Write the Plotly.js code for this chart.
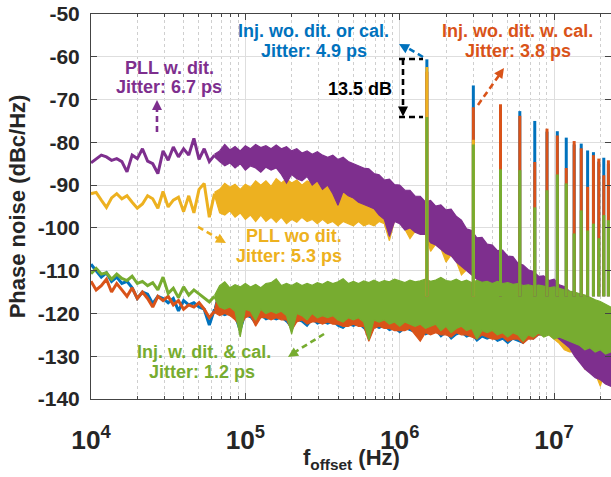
<!DOCTYPE html>
<html><head><meta charset="utf-8">
<script src="https://cdn.plot.ly/plotly-3.0.1.min.js"></script>
<style>html,body{margin:0;padding:0;background:#fff}#chart{width:611px;height:477px}</style>
</head><body><div id="chart"></div>
<script>
// frequency grid (Hz), 30 points per decade
const freqHz = [
1e4,1.08e4,1.166e4,1.259e4,1.359e4,1.468e4,1.585e4,1.711e4,1.848e4,1.995e4,2.154e4,2.326e4,2.512e4,2.712e4,2.929e4,3.162e4,3.415e4,3.687e4,3.981e4,4.299e4,4.642e4,5.012e4,5.412e4,5.843e4,6.31e4,6.813e4,7.356e4,7.943e4,8.577e4,9.261e4,
1e5,1.08e5,1.166e5,1.259e5,1.359e5,1.468e5,1.585e5,1.711e5,1.848e5,1.995e5,2.154e5,2.326e5,2.512e5,2.712e5,2.929e5,3.162e5,3.415e5,3.687e5,3.981e5,4.299e5,4.642e5,5.012e5,5.412e5,5.843e5,6.31e5,6.813e5,7.356e5,7.943e5,8.577e5,9.261e5,
1e6,1.08e6,1.166e6,1.259e6,1.359e6,1.468e6,1.585e6,1.711e6,1.848e6,1.995e6,2.154e6,2.326e6,2.512e6,2.712e6,2.929e6,3.162e6,3.415e6,3.687e6,3.981e6,4.299e6,4.642e6,5.012e6,5.412e6,5.843e6,6.31e6,6.813e6,7.356e6,7.943e6,8.577e6,9.261e6,
1e7,1.08e7,1.166e7,1.259e7,1.359e7,1.468e7,1.585e7,1.711e7,1.848e7,1.995e7,2.154e7,2.326e7];

// low-offset part (single wiggly line), dBc/Hz
const purpleLine = [-84.8,-83.8,-83.0,-83.4,-84.2,-83.8,-84.5,-86.9,-83.0,-83.8,-81.5,-84.4,-85.0,-87.3,-82.0,-84.2,-81.1,-83.4,-81.5,-83.0,-79.1,-84.0,-81.5,-84.5,-83.0];
const yellowLine = [-92.0,-91.7,-93.5,-95.2,-93.0,-92.0,-93.2,-92.5,-94.0,-95.4,-94.4,-92.5,-93.2,-95.4,-91.5,-95.1,-93.5,-92.8,-96.2,-92.5,-96.5,-91.0,-89.6,-97.5,-92.0];
const greenLine = [-110.7,-109.5,-110.8,-110.5,-112.0,-110.8,-111.8,-112.3,-111.3,-113.0,-112.5,-113.5,-112.8,-114.5,-111.5,-115.3,-114.1,-116.3,-113.8,-115.7,-114.5,-115.5,-116.3,-117.3,-116.0];
const blueLine = [-108.5,-110,-111.5,-110.5,-112.5,-111.5,-113,-112.5,-114,-116.5,-115,-115.5,-117.7,-116,-116.5,-117.5,-116.5,-119.4,-117,-118,-117.5,-118.5,-119,-122.7,-119];
const orangeLine = [-112.5,-114.5,-113.5,-112,-115,-113,-114.5,-116,-114,-116.5,-115,-116.5,-118.5,-116,-117,-116,-118,-117,-119,-118,-118.5,-117.5,-119,-121,-119.5];

// dense part: upper / lower envelope of the noise
const purpleHi = [-82.8,-82,-80.5,-81.8,-81,-82,-80.8,-81.5,-80.5,-81.2,
-80.8,-81.5,-80.6,-81.5,-81,-82,-81.5,-82.5,-82,-82.8,
-82.2,-83,-83.5,-83,-84,-83.5,-84.5,-85,-85.5,-86,
-86.2,-87.3,-87.6,-88.8,-88.6,-89.9,-90,-91.2,-91.2,-92.6,
-92.6,-93.9,-93.6,-94.9,-94.6,-95.8,-95.6,-97.3,-98.2,-100.2,
-100.6,-102.3,-102.2,-103.8,-104,-105.3,-105.2,-106.6,-106.7,-108.3,
-108.7,-109.8,-110.2,-111.3,-111.2,-112.3,-112,-113.3,-113.7,-114.8,
-115.5,-116.5,-117.5,-118.5,-119.5,-120.5,-121.5,-122.5];
const purpleLo = [-83.4,-84.5,-85.5,-84.8,-86,-85,-86.5,-85.5,-86,-87,
-85.8,-86.5,-86,-87.5,-89.5,-87.5,-88.5,-89,-88,-90,
-89,-91,-90,-92,-94.7,-91.5,-92.5,-93,-94,-94.5,
-95,-95.5,-97,-98,-102,-98.5,-99,-100.5,-100,-101,
-101.5,-101.5,-103.5,-104,-105,-106,-106.5,-108,-109,-110,
-111,-112,-113,-114,-114.5,-115,-116,-116.5,-117,-117.5,
-119,-120,-121,-122,-123,-124,-125,-126,-127,-128,
-130,-131.5,-133,-134,-135,-135.5,-136.5,-137];
const yellowHi = [-91.7,-91,-89.6,-90.5,-89.8,-91,-89.8,-90.5,-89,-90,
-89,-90.3,-88.5,-89.5,-88.5,-89.5,-88.8,-90,-89,-89.5,
-89,-90,-89.5,-90,-90.5,-90,-90.5,-90.5,-91,-91,
-90.5,-89.5,-89.3,-89.5,-90,-90.5,-91,-91.5,-92,-93,
-93.5,-94,-94.5,-95,-95.5,-96,-96.5,-97.5,-99,-100.3,
-101.5,-102.5,-103,-104,-104.8,-105.5,-106,-106.8,-107.5,-108.5,
-109.5,-110,-111,-111.5,-112,-112.5,-113,-113.5,-114.5,-115,
-116,-117,-118,-119,-120,-121,-122,-123];
const yellowLo = [-92.4,-96.5,-97,-96,-97.5,-96.5,-98,-97,-98.5,-97,
-98.5,-97.5,-98.7,-97.5,-99,-98,-98.7,-97.5,-98.5,-98,
-99,-98,-99,-98.5,-99.5,-98.5,-99,-99.5,-98.5,-99.5,
-99,-99.5,-98.5,-99,-103,-98.3,-98.8,-100.3,-102.5,-100.8,
-101.3,-101.3,-105.5,-103.8,-104.8,-108,-106.3,-107.8,-111,-109.8,
-110.8,-112,-113,-114,-115.5,-116,-117,-117.5,-118,-118.5,
-120,-121,-121.5,-123,-124,-125,-126,-127,-128.5,-129,
-129,-131,-133,-132,-134,-137,-133,-136];
const greenHi = [-115.8,-113.5,-112.6,-114,-113.3,-113.8,-113,-113.8,-113.2,-114,
-113,-112.8,-111.9,-113.5,-113,-113.5,-112.8,-113.5,-113,-113.4,
-112.8,-113.2,-112.5,-113,-112.6,-111.9,-113,-112.5,-113,-112.4,
-112.8,-112.2,-112.8,-112.3,-112.6,-112,-112.4,-112.8,-112.2,-112.6,
-112.4,-112,-112.5,-112.2,-111.6,-112.3,-112.5,-112,-112.6,-112.2,
-112.8,-112.3,-112.7,-112.5,-113,-112.5,-113,-112.8,-113.2,-113,
-113.5,-113.3,-113.6,-113.4,-113.6,-114,-113.8,-114.2,-114.5,-114.8,
-115,-115.4,-115.7,-116.2,-116.8,-117.2,-117.8,-118.5];
const greenLo = [-116.4,-118.5,-119,-118.5,-119.5,-125.5,-119,-119.5,-121.6,-119,
-120,-119.5,-120,-119.5,-120.5,-124.8,-120,-120.5,-121.5,-120,
-121,-120.5,-121,-120.5,-121.5,-122,-121,-121.5,-121,-122,
-126.2,-121.5,-122,-121.5,-122.5,-122,-123,-122,-122.5,-123,
-122.5,-123.5,-123,-122.5,-124,-123,-124.5,-123.5,-123,-124,
-123.5,-126,-124,-124.5,-124,-125,-124.5,-125.5,-124.5,-125,
-126.5,-125,-125.5,-124.5,-125.5,-125,-126,-125.5,-126,-126.5,
-127,-127.5,-128.5,-128,-129,-128.5,-129.5,-129];
const blueHi = [-118.7,-114,-113.2,-114.5,-113.5,-114.3,-113.5,-114.3,-113.6,-114.5,
-113.4,-113.3,-112.4,-114,-113.5,-114,-113.3,-114,-113.5,-113.9,
-113.3,-113.7,-113,-113.5,-113.1,-112.4,-113.5,-113,-113.5,-112.9,
-113.3,-112.7,-113.3,-112.8,-113.1,-112.5,-112.9,-113.3,-112.7,-113.1,
-112.9,-112.5,-113,-112.7,-112.1,-112.8,-113,-112.5,-113.1,-112.7,
-113.3,-112.8,-113.2,-113,-113.5,-113,-113.5,-113.3,-113.7,-113.5,
-114,-113.8,-114.1,-113.9,-114.1,-114.5,-114.3,-114.7,-115,-115.3,
-115.5,-115.9,-116.2,-116.7,-117.3,-117.7,-118.3,-119];
const blueLo = [-119.3,-120,-120.5,-120,-121,-124.5,-120.5,-121,-122.5,-120.5,
-121.5,-121,-121.5,-121,-122,-123.5,-121.5,-122,-123,-121.5,
-122.5,-122,-122.5,-122,-123,-123.5,-122.5,-123,-122.5,-123.5,
-125,-123,-123.5,-123,-124,-123.5,-124.5,-123.5,-124,-124.5,
-124,-125,-124.5,-124,-125.5,-124.5,-126,-125,-124.5,-125.5,
-125,-126.5,-125.5,-126,-125.5,-126.5,-126,-127,-126,-126.5,
-127,-125.5,-126,-125,-125,-124.5,-125.5,-125,-125.5,-126,
-126.5,-127,-128,-127.5,-128.5,-128,-129,-128.5];
const orangeHi = [-119.2,-113.8,-113.4,-114.2,-113.7,-114,-113.6,-114,-113.4,-114.2,
-113.5,-113.2,-112.6,-113.8,-113.3,-113.8,-113.2,-113.8,-113.3,-113.7,
-113.1,-113.5,-112.9,-113.3,-112.9,-112.5,-113.2,-112.8,-113.3,-112.7,
-113.1,-112.5,-113.1,-112.6,-112.9,-112.3,-112.7,-113.1,-112.5,-112.9,
-112.7,-112.3,-112.8,-112.5,-111.9,-112.6,-112.8,-112.3,-112.9,-112.5,
-113.1,-112.6,-113,-112.8,-113.3,-112.8,-113.3,-113.1,-113.5,-113.3,
-113.8,-113.6,-113.9,-113.7,-113.9,-114.3,-114.1,-114.5,-114.8,-115.1,
-115.3,-115.7,-116,-116.5,-117.1,-117.5,-118.1,-118.8];
const orangeLo = [-119.8,-120.5,-120,-120.5,-121.5,-123,-121,-120.5,-123,-121,
-121,-121.5,-121,-121.5,-121.5,-124,-122,-121.5,-122.5,-122,
-122,-122.5,-122,-122.5,-122.5,-123,-123,-122.5,-123,-123,
-126.5,-123.5,-123,-123.5,-123.5,-124,-124,-124,-123.5,-125,
-126.5,-124.5,-125,-124.5,-125,-125,-125.5,-124.5,-125,-125,
-125.5,-126,-125,-125.5,-126,-126,-125.5,-126.5,-126,-126,
-127,-126,-126,-125,-125,-124.5,-125.5,-125,-125.5,-126,
-126.5,-127,-128,-127.5,-128.5,-128,-129,-128.5];

// fractional spurs (multiples of 1.5 MHz)
const spurFreq = [1.5e6,3e6,4.5e6,6e6,7.5e6,9e6,1.05e7,1.2e7,1.35e7,1.5e7,1.65e7,1.8e7,1.95e7,2.1e7,2.25e7];
const blueSpur = [-60.6,-66.7,-72,-72.7,-75,-77.5,-77.4,-78.9,-80.5,-80.3,-81.9,-82.3,-84.5,-83.6,-85];
const orangeSpur = [-63.5,-71.8,-71.1,-73.8,-84.6,-76.8,-78.4,-86,-79.7,-81.4,-90.4,-83,-83.8,-87.7,-84.2];
const yellowSpurFreq = [1.5e6,3e6];
const yellowSpur = [-62.4,-79.4];
const greenSpur = [-74.1,-80.5,-86.3,-86.5,-95.2,-91.2,-87.5,-89.6,-101.3,-95.9,-100.6,-99,-102.4,-97,-98.2];
const spurBase = -116;

const yTickVals = [-140,-130,-120,-110,-100,-90,-80,-70,-60,-50];

const FONT = 'Arial, "Liberation Sans", sans-serif';
const C = {blue:'#0072BD', orange:'#D95319', yellow:'#EDB120', purple:'#7E2F8E', green:'#77AC30'};
const SPLIT = 24;
const PW = 520, PH = 385; // plot area size in px (for arrowhead geometry)

function lineTrace(vals, color){
  return {x: freqHz.slice(0, vals.length), y: vals, mode:'lines', line:{color:color, width:3}, hoverinfo:'skip'};
}
function bandTrace(hi, lo, color){
  const f = freqHz.slice(SPLIT, SPLIT + hi.length);
  return {x: f.concat(f.slice().reverse()), y: hi.concat(lo.slice().reverse()), mode:'lines',
    fill:'toself', fillcolor:color, line:{color:color, width:1.2}, hoverinfo:'skip'};
}
function spurTrace(fs, tops, color){
  const x = [], y = [];
  fs.forEach(function(f, i){ x.push(f, f, null); y.push(spurBase, tops[i], null); });
  return {x:x, y:y, mode:'lines', line:{color:color, width:3}, hoverinfo:'skip', connectgaps:false};
}

const data = [
  lineTrace(blueLine, C.blue), bandTrace(blueHi, blueLo, C.blue),
  lineTrace(orangeLine, C.orange), bandTrace(orangeHi, orangeLo, C.orange),
  lineTrace(yellowLine, C.yellow), bandTrace(yellowHi, yellowLo, C.yellow),
  lineTrace(purpleLine, C.purple), bandTrace(purpleHi, purpleLo, C.purple),
  lineTrace(greenLine, C.green), bandTrace(greenHi, greenLo, C.green),
  spurTrace(spurFreq, blueSpur, C.blue),
  spurTrace(spurFreq, orangeSpur, C.orange),
  spurTrace(yellowSpurFreq, yellowSpur, C.yellow),
  spurTrace(spurFreq, greenSpur, C.green)
];

function txt(t, x, y, color){
  return {text:'<b>'+t+'</b>', x:x, y:y, xref:'paper', yref:'paper', xanchor:'center', yanchor:'middle',
    showarrow:false, font:{family:FONT, size:18, color:color}};
}
function dashLine(x0, y0, x1, y1, color){
  return {type:'line', xref:'paper', yref:'paper', x0:x0, y0:y0, x1:x1, y1:y1,
    line:{color:color, width:2.6, dash:'6px,4px'}};
}
// filled triangular arrowhead; tip in paper coords, direction (tail->tip) in screen px
function arrowHead(tx, ty, dx, dy, color){
  const n = Math.hypot(dx, dy), ux = dx / n, uy = dy / n, L = 10, W = 10;
  const bx = -L * ux, by = -L * uy;
  const p = [[0, 0], [bx - uy * W / 2, by + ux * W / 2], [bx + uy * W / 2, by - ux * W / 2]];
  const path = p.map(function(q, i){ return (i ? 'L' : 'M') + (tx + q[0] / PW).toFixed(5) + ',' + (ty - q[1] / PH).toFixed(5); }).join(' ') + ' Z';
  return {type:'path', xref:'paper', yref:'paper', path:path, fillcolor:color, line:{width:0}};
}

const annotations = [
  txt('Inj. wo. dit. or cal.', 0.428, 0.9558, C.blue),
  txt('Jitter: 4.9 ps', 0.428, 0.9039, C.blue),
  txt('Inj. wo. dit. w. cal.', 0.821, 0.9558, C.orange),
  txt('Jitter: 3.8 ps', 0.821, 0.9039, C.orange),
  txt('PLL w. dit.', 0.150, 0.8610, C.purple),
  txt('Jitter: 6.7 ps', 0.150, 0.8091, C.purple),
  txt('PLL wo dit.', 0.390, 0.4234, C.yellow),
  txt('Jitter: 5.3 ps', 0.381, 0.3714, C.yellow),
  txt('Inj. w. dit. &amp; cal.', 0.218, 0.1221, C.green),
  txt('Jitter: 1.2 ps', 0.214, 0.0701, C.green),
  txt('13.5 dB', 0.517, 0.805, '#000000'),
  {text:'<b>f<sub>offset</sub> (Hz)</b>', x:0.5, y:-0.114, xref:'paper', yref:'paper', xanchor:'center', yanchor:'top',
   showarrow:false, font:{family:FONT, size:22, color:'#262626'}}
];
const shapes = [
  dashLine(0.1269, 0.6935, 0.1269, 0.7610, C.purple),
  dashLine(0.6385, 0.8883, 0.6058, 0.9143, C.blue),
  dashLine(0.7442, 0.7636, 0.7865, 0.8442, C.orange),
  dashLine(0.2058, 0.4468, 0.2462, 0.4156, C.yellow),
  dashLine(0.4481, 0.1688, 0.3923, 0.1221, C.green),
  dashLine(0.5923, 0.8831, 0.6385, 0.8831, '#000000'),
  dashLine(0.5923, 0.7325, 0.6385, 0.7325, '#000000'),
  dashLine(0.6, 0.8831, 0.6, 0.7532, '#000000'),
  arrowHead(0.1269, 0.7766, 0, -1, C.purple),
  arrowHead(0.5923, 0.9221, -24, -13, C.blue),
  arrowHead(0.7942, 0.8597, 26, -37, C.orange),
  arrowHead(0.2596, 0.4052, 28, 16, C.yellow),
  arrowHead(0.3788, 0.1091, -36, 23, C.green),
  arrowHead(0.6, 0.7338, 0, 1, '#000000')
];

const layout = {
  width:611, height:477,
  margin:{l:91, r:0, t:14, b:78, pad:0},
  paper_bgcolor:'#ffffff', plot_bgcolor:'#ffffff',
  showlegend:false,
  font:{family:FONT, color:'#262626'},
  xaxis:{
    type:'log', range:[4, Math.log10(2.339e7)], dtick:1, exponentformat:'power',
    showgrid:true, gridcolor:'#dedede', gridwidth:1, zeroline:false,
    ticks:'inside', ticklen:6, tickcolor:'#444', showline:true, linecolor:'#444', linewidth:1, mirror:'ticks',
    tickfont:{family:FONT, size:21, weight:'bold', color:'#262626'}, ticklabelstandoff:19,
    minor:{dtick:'D1', ticks:'inside', ticklen:3, tickcolor:'#444', showgrid:true, gridcolor:'#cfcfcf', griddash:'dot', gridwidth:1},
    automargin:false
  },
  yaxis:{
    range:[-140, -50], tickmode:'array', tickvals:yTickVals, ticktext:yTickVals.map(String),
    showgrid:true, gridcolor:'#dedede', gridwidth:1, zeroline:false,
    ticks:'inside', ticklen:6, tickcolor:'#444', showline:true, linecolor:'#444', linewidth:1, mirror:'ticks',
    tickfont:{family:FONT, size:21, weight:'bold', color:'#262626'}, ticklabelstandoff:6,
    title:{text:'<b>Phase noise (dBc/Hz)</b>', font:{family:FONT, size:22, color:'#262626'}, standoff:6},
    automargin:false
  },
  annotations:annotations,
  shapes:shapes
};

Plotly.newPlot('chart', data, layout, {staticPlot:true, displayModeBar:false});
</script>
</body></html>
